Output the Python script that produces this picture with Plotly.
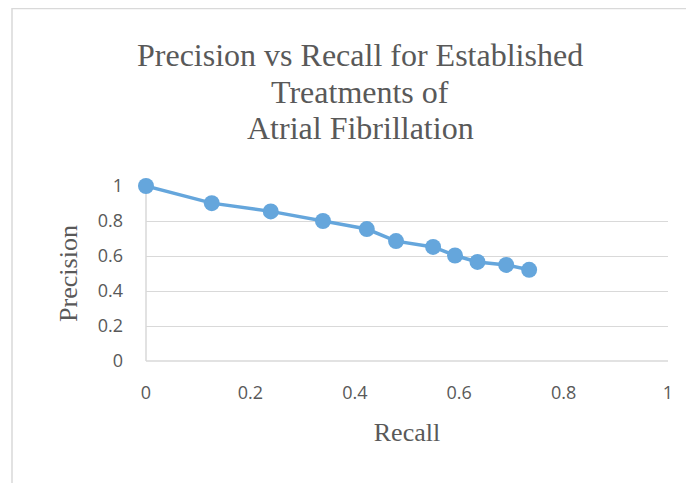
import plotly.graph_objects as go

recall = [0.0, 0.126, 0.239, 0.339, 0.423, 0.479, 0.550, 0.592, 0.635, 0.690, 0.734]
precision = [1.0, 0.902, 0.855, 0.800, 0.754, 0.685, 0.652, 0.603, 0.566, 0.549, 0.521]
x_ticks = [0, 0.2, 0.4, 0.6, 0.8, 1]
x_tick_labels = ["0", "0.2", "0.4", "0.6", "0.8", "1"]
y_ticks = [0, 0.2, 0.4, 0.6, 0.8, 1]
y_tick_labels = ["0", "0.2", "0.4", "0.6", "0.8", "1"]
title_lines = ["Precision vs Recall for Established", "Treatments of", "Atrial Fibrillation"]

OFF = 8  # browser default body margin
W, H = 694 - OFF, 483 - OFF
L, R, T, B = 146 - OFF, 668 - OFF, 186 - OFF, 361 - OFF

fig = go.Figure()
fig.add_trace(go.Scatter(
    x=recall, y=precision, mode="lines+markers",
    line=dict(color="#65A6DC", width=3.5),
    marker=dict(color="#65A6DC", size=16),
    cliponaxis=False, showlegend=False,
))

pw, ph = R - L, B - T
def px(xp):
    return (xp - OFF - L) / pw
def py(yp):
    return (B - (yp - OFF)) / ph

fig.add_shape(type="rect", xref="paper", yref="paper",
              x0=px(12), x1=px(740), y0=py(540), y1=py(8.5),
              line=dict(color="#D9D9D9", width=1.5), fillcolor="rgba(0,0,0,0)", layer="below")

serif = "Liberation Serif, Times New Roman, serif"
for i, (txt, yc) in enumerate(zip(title_lines, [55, 92, 128])):
    fig.add_annotation(text=txt, xref="paper", yref="paper", x=px(360), y=py(yc),
                       xanchor="center", yanchor="middle", showarrow=False,
                       font=dict(family=serif, size=32, color="#595959"))

tick_font = dict(family="Open Sans, Liberation Sans, sans-serif", size=18, color="#595959")
fig.update_layout(
    width=W, height=H,
    margin=dict(l=L, r=W - R, t=T, b=H - B, pad=0),
    paper_bgcolor="white", plot_bgcolor="white",
    xaxis=dict(
        range=[0, 1], tickvals=x_ticks, ticktext=x_tick_labels,
        showgrid=False, zeroline=False, showline=False,
        tickfont=tick_font, ticks="", ticklabelstandoff=19,
        title=dict(text="Recall", font=dict(family=serif, size=26, color="#595959"), standoff=19),
    ),
    yaxis=dict(
        range=[0, 1], tickvals=y_ticks, ticktext=y_tick_labels,
        showgrid=True, gridcolor="#D9D9D9", gridwidth=1.3,
        zeroline=False, showline=False,
        tickfont=tick_font, ticks="", ticklabelstandoff=22,
        title=dict(text="Precision", font=dict(family=serif, size=26, color="#595959"), standoff=12),
    ),
)
fig.add_shape(type="line", xref="paper", yref="paper", x0=0, x1=1, y0=0, y1=0,
              line=dict(color="#D9D9D9", width=1.5), layer="below")
fig.add_shape(type="line", xref="paper", yref="paper", x0=0, x1=0, y0=0, y1=1,
              line=dict(color="#D9D9D9", width=1.5), layer="below")

fig.write_html("out.html")
